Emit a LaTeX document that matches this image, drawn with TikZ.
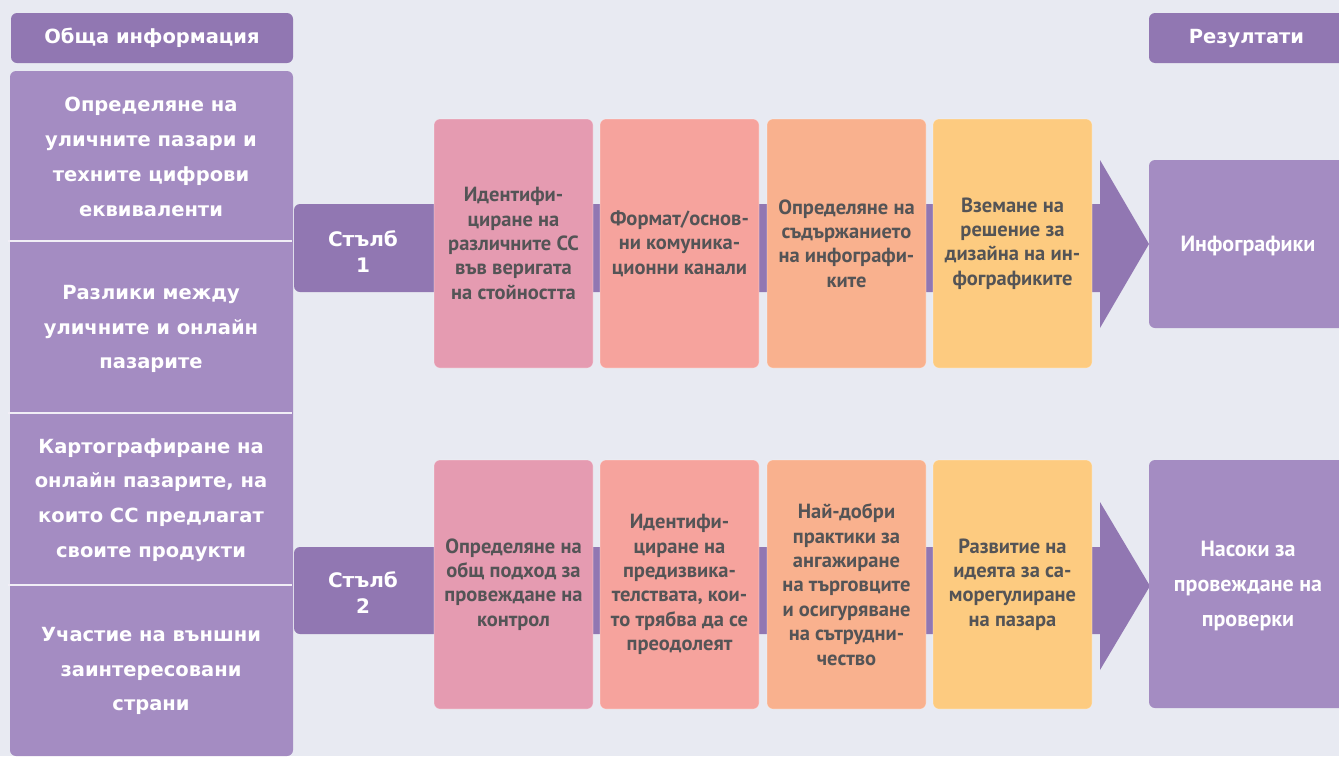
\documentclass[tikz,border=0pt]{standalone}
\usepackage{fontspec}
\setmainfont{DejaVu Sans}
\newfontfamily\stepfont{PT Sans}
\definecolor{bgc}{HTML}{E8EAF2}
\definecolor{darkp}{HTML}{9177B2}
\definecolor{lightp}{HTML}{A48CC2}
\definecolor{pinkc}{HTML}{E59BB1}
\definecolor{salmonc}{HTML}{F6A39D}
\definecolor{peachc}{HTML}{F9B18E}
\definecolor{yellowc}{HTML}{FDCB80}
\definecolor{txtg}{HTML}{545456}
\begin{document}
\begin{tikzpicture}[x=1pt,y=-1pt,
  hdr/.style={fill=darkp, rounded corners=6pt, inner sep=0pt, text=white,
    font=\fontsize{19.5}{23}\selectfont\bfseries},
  resbox/.style={fill=lightp, rounded corners=6pt, inner sep=0pt},
  whitetxt/.style={text=white, align=center, inner sep=0pt,
    font=\fontsize{19.5}{34.8}\selectfont\bfseries},
  restxt/.style={text=white, align=center, inner sep=0pt,
    font=\stepfont\fontsize{22}{35}\selectfont\bfseries},
  stepbox/.style={rounded corners=6pt, inner sep=0pt, minimum width=159pt, minimum height=249pt,
    draw=white, draw opacity=0.35, line width=0.6pt},
  steptxt/.style={text=txtg, align=center, inner sep=0pt,
    font=\stepfont\fontsize{20.5}{24.4}\selectfont\bfseries},
  band/.style={fill=darkp},
  divider/.style={draw=white!85!lightp, line width=1.5pt}
]
\fill[bgc] (0,0) rectangle (1339,756);
\useasboundingbox (0,0) rectangle (1339,756);

% headers
\node[hdr, minimum width=282pt, minimum height=50pt] (hL) at (152,38) {Обща информация};
\node[hdr, minimum width=200pt, minimum height=50pt] (hR) at (1249,38) {\hspace*{-5pt}Резултати};

% left panel
\node[resbox, minimum width=283pt, minimum height=685pt] (panel) at (151.5,413.5) {};
\coordinate (d1a) at (8,241); \coordinate (d1b) at (292,241);
\coordinate (d2a) at (8,413); \coordinate (d2b) at (292,413);
\coordinate (d3a) at (8,585); \coordinate (d3b) at (292,585);
\draw[divider] (d1a) -- (d1b);
\draw[divider] (d2a) -- (d2b);
\draw[divider] (d3a) -- (d3b);
\node[whitetxt] (s1) at (151,157) {Определяне на\\уличните пазари и\\техните цифрови\\еквиваленти};
\node[whitetxt] (s2) at (151,329) {Разлики между\\уличните и онлайн\\пазарите};
\node[whitetxt] (s3) at (151,500) {Картографиране на\\онлайн пазарите, на\\които СС предлагат\\своите продукти};
\node[whitetxt] (s4) at (151,671) {Участие на външни\\заинтересовани\\страни};

% bands with arrows
\fill[band, rounded corners=6pt] (294,204) rectangle (1112,292);
\fill[band] (1100,160) -- (1149,244) -- (1100,328) -- cycle;
\fill[band, rounded corners=6pt] (294,547) rectangle (1112,634);
\fill[band] (1100,502) -- (1150,586) -- (1100,670) -- cycle;
\node[whitetxt, font=\fontsize{20}{26}\selectfont\bfseries] (p1) at (363,252) {Стълб\\1};
\node[whitetxt, font=\fontsize{20}{26}\selectfont\bfseries] (p2) at (363,593) {Стълб\\2};

% result boxes
\node[resbox, minimum width=200pt, minimum height=168pt] (r1) at (1249,244) {};
\node[restxt] (r1t) at (1248,246) {Инфографики};
\node[resbox, minimum width=200pt, minimum height=248pt] (r2) at (1249,584) {};
\node[restxt] (r2t) at (1248,586) {Насоки за\\провеждане на\\проверки};

% row 1
\node[stepbox, fill=pinkc] (a1) at (513.5,243.5) {};
\node[stepbox, fill=salmonc] (a2) at (679.5,243.5) {};
\node[stepbox, fill=peachc] (a3) at (846.5,243.5) {};
\node[stepbox, fill=yellowc] (a4) at (1012.5,243.5) {};
\node[steptxt] at (a1) {Идентифи-\\циране на\\различните СС\\във веригата\\на стойността};
\node[steptxt] at (a2) {Формат/основ-\\ни комуника-\\ционни канали};
\node[steptxt] at (a3) {Определяне на\\съдържанието\\на инфографи-\\ките};
\node[steptxt] at (a4) {Вземане на\\решение за\\дизайна на ин-\\фографиките};

% row 2
\node[stepbox, fill=pinkc] (b1) at (513.5,584.5) {};
\node[stepbox, fill=salmonc] (b2) at (679.5,584.5) {};
\node[stepbox, fill=peachc] (b3) at (846.5,584.5) {};
\node[stepbox, fill=yellowc] (b4) at (1012.5,584.5) {};
\node[steptxt] at (b1) {Определяне на\\общ подход за\\провеждане на\\контрол};
\node[steptxt] at (b2) {Идентифи-\\циране на\\предизвика-\\телствата, кои-\\то трябва да се\\преодолеят};
\node[steptxt] at (b3) {Най-добри\\практики за\\ангажиране\\на търговците\\и осигуряване\\на сътрудни-\\чество};
\node[steptxt] at (b4) {Развитие на\\идеята за са-\\морегулиране\\на пазара};
\end{tikzpicture}
\end{document}
